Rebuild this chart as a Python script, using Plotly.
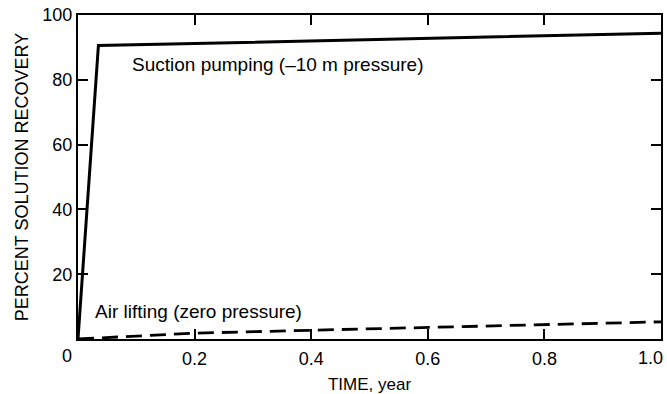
import plotly.graph_objects as go

# Data
suction_x = [0.0, 0.035, 0.2, 0.4, 0.6, 0.8, 1.0]
suction_y = [0.0, 90.6, 91.2, 92.0, 92.8, 93.6, 94.4]
air_x = [0.0, 0.1, 0.2, 0.4, 0.6, 0.8, 1.0]
air_y = [0.0, 0.9, 1.8, 2.7, 3.5, 4.4, 5.3]
x_ticks = [0.2, 0.4, 0.6, 0.8]
x_tick_text = ["0.2", "0.4", "0.6", "0.8"]
y_ticks = [20, 40, 60, 80, 100]
y_tick_text = ["20", "40", "60", "80", "100"]

FONT = "Liberation Sans, Arial, Helvetica, sans-serif"

fig = go.Figure()
fig.add_trace(go.Scatter(x=suction_x, y=suction_y, mode="lines",
                         line=dict(color="black", width=3), showlegend=False))
fig.add_trace(go.Scatter(x=air_x, y=air_y, mode="lines",
                         line=dict(color="black", width=2.8, dash="16px,8px"), showlegend=False))

axis_common = dict(showline=True, linecolor="black", linewidth=2, mirror="ticks",
                   ticks="inside", ticklen=10, tickwidth=1.5, tickcolor="black",
                   showgrid=False, zeroline=False,
                   tickfont=dict(family=FONT, size=18, color="black"))

fig.update_xaxes(range=[0, 1.0], tickvals=x_ticks, ticktext=x_tick_text,
                 title=dict(text="TIME, year", font=dict(family=FONT, size=17, color="black"), standoff=12),
                 ticklabelstandoff=2, **axis_common)
fig.update_yaxes(range=[0, 100], tickvals=y_ticks, ticktext=y_tick_text,
                 title=dict(text="PERCENT SOLUTION RECOVERY", font=dict(family=FONT, size=18, color="black"), standoff=9),
                 ticklabelstandoff=0, **axis_common)

ann_font = dict(family=FONT, size=19, color="black")
fig.add_annotation(x=0.09, y=88.5, xref="x", yref="y", text="Suction pumping (\u201210 m pressure)",
                   showarrow=False, xanchor="left", yanchor="top", font=ann_font)
fig.add_annotation(x=0.025, y=12.5, xref="x", yref="y", text="Air lifting (zero pressure)",
                   showarrow=False, xanchor="left", yanchor="top", font=ann_font)
# shared origin label and last x label (shifted as in the original)
fig.add_annotation(x=0, y=0, xref="x", yref="y", text="0", showarrow=False,
                   xshift=-11, yshift=-17, font=dict(family=FONT, size=18, color="black"))
fig.add_annotation(x=1.0, y=0, xref="x", yref="y", text="1.0", showarrow=False,
                   xshift=-11, yshift=-19, font=dict(family=FONT, size=18, color="black"))

fig.update_layout(width=667, height=394, margin=dict(l=78, r=6, t=15, b=55, autoexpand=False),
                  plot_bgcolor="white", paper_bgcolor="white")
fig.write_html("out.html")
